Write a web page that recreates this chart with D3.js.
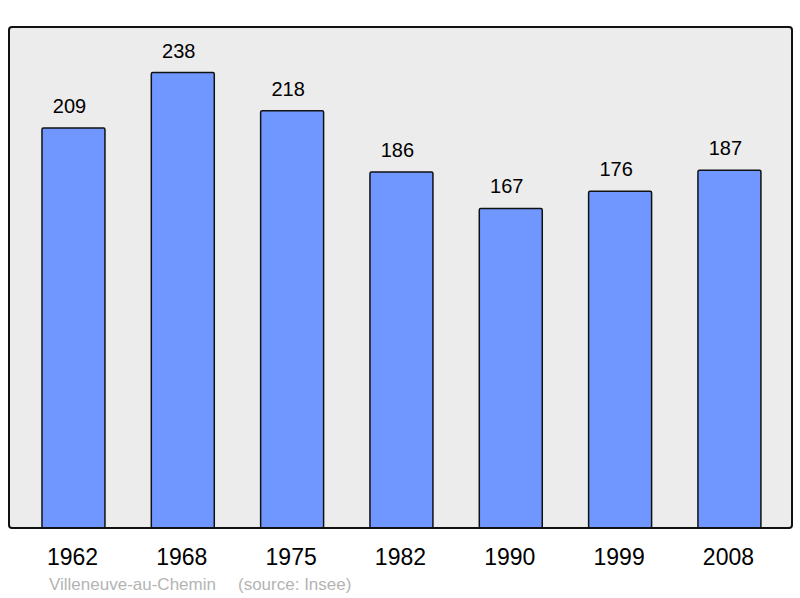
<!DOCTYPE html>
<html>
<head>
<meta charset="utf-8">
<script src="https://cdn.jsdelivr.net/npm/d3@7"></script>
<style>
  body { margin: 0; background: #fff; }
  svg { display: block; font-family: "Liberation Sans", Arial, sans-serif; }
</style>
</head>
<body>
<svg id="chart"></svg>
<script>
var years = ["1962", "1968", "1975", "1982", "1990", "1999", "2008"];
var population = [209, 238, 218, 186, 167, 176, 187];
var commune = "Villeneuve-au-Chemin";
var source = "(source: Insee)";

const width = 800, height = 598;
const frame = {left: 9, top: 27, right: 792, bottom: 528};

const svg = d3.select("#chart")
  .attr("width", width)
  .attr("height", height);

// background panel
svg.append("rect")
  .attr("x", frame.left)
  .attr("y", frame.top)
  .attr("width", frame.right - frame.left)
  .attr("height", frame.bottom - frame.top)
  .attr("rx", 3)
  .attr("fill", "#ececec")
  .attr("stroke", "none");

const x = d3.scaleBand()
  .domain(years)
  .range([18.8, 784.1])
  .paddingInner(0.424)
  .paddingOuter(0.212);

const y = d3.scaleLinear()
  .domain([0, d3.max(population) * 1.1])
  .range([frame.bottom, frame.top]);

const data = years.map((d, i) => ({year: d, value: population[i]}));

svg.append("g")
  .selectAll("rect")
  .data(data)
  .join("rect")
  .attr("x", d => x(d.year))
  .attr("y", d => y(d.value))
  .attr("width", x.bandwidth())
  .attr("height", d => y(0) - y(d.value))
  .attr("rx", 1.5)
  .attr("fill", "#7097ff")
  .attr("stroke", "#111")
  .attr("stroke-width", 1.5);

// value labels (sit a little left of the bar centre, as in the original)
svg.append("g")
  .selectAll("text")
  .data(data)
  .join("text")
  .attr("x", d => x(d.year) + x.bandwidth() / 2 - 4)
  .attr("y", d => y(d.value) - 15)
  .attr("text-anchor", "middle")
  .attr("font-size", "20px")
  .attr("fill", "#000")
  .text(d => d.value);

// frame outline on top
svg.append("rect")
  .attr("x", frame.left)
  .attr("y", frame.top)
  .attr("width", frame.right - frame.left)
  .attr("height", frame.bottom - frame.top)
  .attr("rx", 3)
  .attr("fill", "none")
  .attr("stroke", "#111")
  .attr("stroke-width", 2);

// year axis
const xAxis = svg.append("g")
  .attr("transform", `translate(-1,${frame.bottom})`)
  .call(d3.axisBottom(x).tickSize(0).tickPadding(21));
xAxis.select(".domain").remove();
xAxis.selectAll("text")
  .attr("font-size", "23px")
  .attr("font-family", "Liberation Sans, Arial, sans-serif")
  .attr("fill", "#000");

// footer
svg.append("text")
  .attr("x", 49)
  .attr("y", 590)
  .attr("font-size", "17px")
  .attr("fill", "#b4b4b4")
  .text(commune);
svg.append("text")
  .attr("x", 238)
  .attr("y", 590)
  .attr("font-size", "17px")
  .attr("fill", "#b4b4b4")
  .text(source);
</script>
</body>
</html>
